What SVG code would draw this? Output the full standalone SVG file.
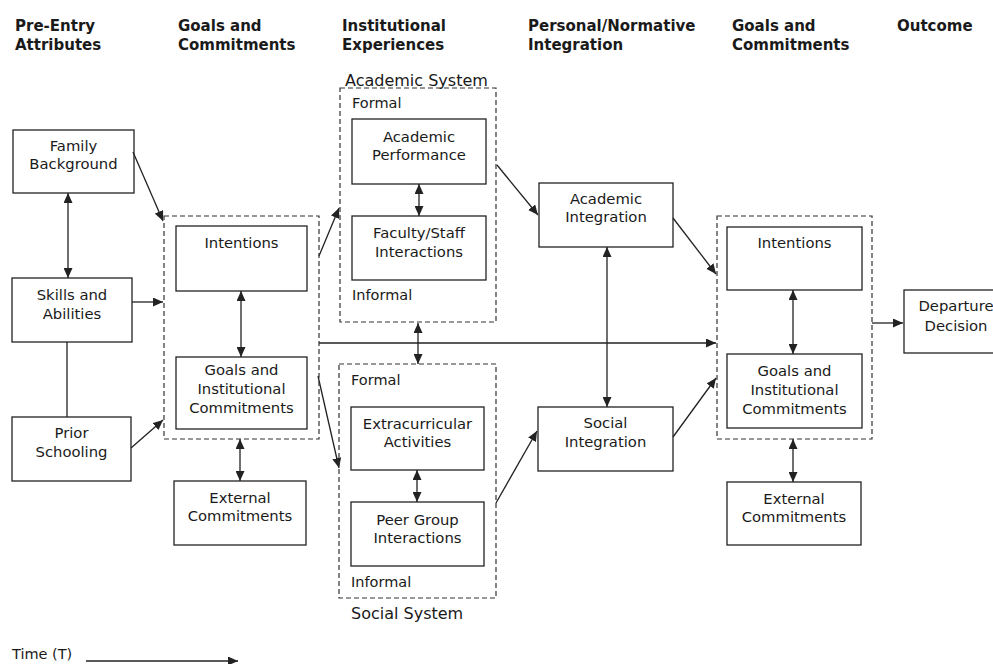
<svg xmlns="http://www.w3.org/2000/svg" width="993" height="664" viewBox="0 0 993 664">
<style>
  .hdr { font-family: "DejaVu Sans", "Liberation Sans", sans-serif; font-size: 15px; font-weight: bold; fill: #1a1a1a; }
  .t { font-family: "DejaVu Sans", "Liberation Sans", sans-serif; font-size: 14.8px; fill: #1a1a1a; text-anchor: middle; }
  .lbl { font-family: "DejaVu Sans", "Liberation Sans", sans-serif; font-size: 14.5px; fill: #1a1a1a; }
  .sys { font-family: "DejaVu Sans", "Liberation Sans", sans-serif; font-size: 16px; fill: #1a1a1a; }
  .box { fill: none; stroke: #222; stroke-width: 1.3; }
  .dash { fill: none; stroke: #333; stroke-width: 1.2; stroke-dasharray: 5 3; }
  .c { fill: none; stroke: #222; stroke-width: 1.3; }
  .one { marker-end: url(#ah); }
  .two { marker-start: url(#ah); marker-end: url(#ah); }
</style>
<defs>
  <marker id="ah" markerUnits="userSpaceOnUse" markerWidth="11" markerHeight="9" refX="10" refY="4.5" orient="auto-start-reverse">
    <path d="M0,0 L10,4.5 L0,9 z" fill="#222"/>
  </marker>
</defs>
<rect width="993" height="664" fill="#ffffff"/>

<g id="headers">
  <text class="hdr" x="15" y="31">Pre-Entry</text>
  <text class="hdr" x="15" y="50">Attributes</text>
  <text class="hdr" x="178" y="31">Goals and</text>
  <text class="hdr" x="178" y="50">Commitments</text>
  <text class="hdr" x="342" y="31">Institutional</text>
  <text class="hdr" x="342" y="50">Experiences</text>
  <text class="hdr" x="528" y="31">Personal/Normative</text>
  <text class="hdr" x="528" y="50">Integration</text>
  <text class="hdr" x="732" y="31">Goals and</text>
  <text class="hdr" x="732" y="50">Commitments</text>
  <text class="hdr" x="897" y="31">Outcome</text>
</g>

<g id="connectors">
  <path class="c one" d="M133,152 L163,221"/>
  <path class="c one" d="M132,302 L163,302"/>
  <path class="c one" d="M131,448 L163,420"/>
  <path class="c two" d="M68,193 L68,278"/>
  <path class="c" d="M67,342 L67,417"/>
  <path class="c two" d="M241,291 L241,357"/>
  <path class="c two" d="M240,439 L240,481"/>
  <path class="c one" d="M319,256 L339,208"/>
  <path class="c one" d="M318,376 L339,468"/>
  <path class="c one" d="M319,343 L716,343"/>
  <path class="c two" d="M418,323 L418,364"/>
  <path class="c two" d="M419,184 L419,216"/>
  <path class="c two" d="M417,470 L417,502"/>
  <path class="c one" d="M497,165 L538,215"/>
  <path class="c one" d="M496,503 L537,431"/>
  <path class="c two" d="M607,247 L607,407"/>
  <path class="c one" d="M673,218 L716,274"/>
  <path class="c one" d="M673,437 L716,378"/>
  <path class="c two" d="M793,290 L793,354"/>
  <path class="c two" d="M793,439 L793,482"/>
  <path class="c one" d="M872,323 L903,323"/>
</g>

<g id="academic-system">
  <rect class="dash" x="340" y="88" width="156" height="234"/>
  <text class="sys" x="345" y="86">Academic System</text>
  <text class="lbl" x="352" y="108">Formal</text>
  <text class="lbl" x="352" y="300">Informal</text>
</g>
<g id="social-system">
  <rect class="dash" x="339" y="364" width="157" height="234"/>
  <text class="lbl" x="351" y="385">Formal</text>
  <text class="lbl" x="351" y="587">Informal</text>
  <text class="sys" x="351" y="619">Social System</text>
</g>
<g id="goals-left">
  <rect class="dash" x="164" y="216" width="155" height="223"/>
</g>
<g id="goals-right">
  <rect class="dash" x="717" y="216" width="155" height="223"/>
</g>

<g id="family-background">
  <rect class="box" x="13" y="130" width="121" height="63"/>
  <text class="t" x="73.5" y="151">Family</text>
  <text class="t" x="73.5" y="169">Background</text>
</g>
<g id="skills-abilities">
  <rect class="box" x="12" y="278" width="120" height="64"/>
  <text class="t" x="72" y="300">Skills and</text>
  <text class="t" x="72" y="318.5">Abilities</text>
</g>
<g id="prior-schooling">
  <rect class="box" x="12" y="417" width="119" height="64"/>
  <text class="t" x="71.5" y="438">Prior</text>
  <text class="t" x="71.5" y="456.5">Schooling</text>
</g>
<g id="intentions-1">
  <rect class="box" x="176" y="226" width="131" height="65"/>
  <text class="t" x="241.5" y="247.5">Intentions</text>
</g>
<g id="goals-inst-1">
  <rect class="box" x="176" y="357" width="131" height="72"/>
  <text class="t" x="241.5" y="375">Goals and</text>
  <text class="t" x="241.5" y="394">Institutional</text>
  <text class="t" x="241.5" y="413">Commitments</text>
</g>
<g id="external-1">
  <rect class="box" x="174" y="481" width="132" height="64"/>
  <text class="t" x="240" y="502.5">External</text>
  <text class="t" x="240" y="521">Commitments</text>
</g>
<g id="academic-performance">
  <rect class="box" x="352" y="119" width="134" height="65"/>
  <text class="t" x="419" y="142">Academic</text>
  <text class="t" x="419" y="160">Performance</text>
</g>
<g id="faculty-staff">
  <rect class="box" x="352" y="216" width="134" height="64"/>
  <text class="t" x="419" y="238">Faculty/Staff</text>
  <text class="t" x="419" y="257">Interactions</text>
</g>
<g id="extracurricular">
  <rect class="box" x="351" y="407" width="133" height="63"/>
  <text class="t" x="417.5" y="429">Extracurricular</text>
  <text class="t" x="417.5" y="446.5">Activities</text>
</g>
<g id="peer-group">
  <rect class="box" x="351" y="502" width="133" height="64"/>
  <text class="t" x="417.5" y="524.5">Peer Group</text>
  <text class="t" x="417.5" y="542.5">Interactions</text>
</g>
<g id="academic-integration">
  <rect class="box" x="539" y="183" width="134" height="64"/>
  <text class="t" x="606" y="204">Academic</text>
  <text class="t" x="606" y="222">Integration</text>
</g>
<g id="social-integration">
  <rect class="box" x="538" y="407" width="135" height="64"/>
  <text class="t" x="605.5" y="428">Social</text>
  <text class="t" x="605.5" y="447">Integration</text>
</g>
<g id="intentions-2">
  <rect class="box" x="727" y="227" width="135" height="63"/>
  <text class="t" x="794.5" y="248">Intentions</text>
</g>
<g id="goals-inst-2">
  <rect class="box" x="727" y="354" width="135" height="74"/>
  <text class="t" x="794.5" y="376">Goals and</text>
  <text class="t" x="794.5" y="395">Institutional</text>
  <text class="t" x="794.5" y="413.5">Commitments</text>
</g>
<g id="external-2">
  <rect class="box" x="727" y="482" width="134" height="63"/>
  <text class="t" x="794" y="504">External</text>
  <text class="t" x="794" y="522">Commitments</text>
</g>
<g id="departure-decision">
  <rect class="box" x="904" y="290" width="104" height="63"/>
  <text class="t" x="956" y="311">Departure</text>
  <text class="t" x="956" y="331">Decision</text>
</g>

<g id="time-axis">
  <text class="lbl" x="12" y="659">Time (T)</text>
  <path class="c one" d="M86,661 L238,661" stroke-width="1"/>
</g>
</svg>
